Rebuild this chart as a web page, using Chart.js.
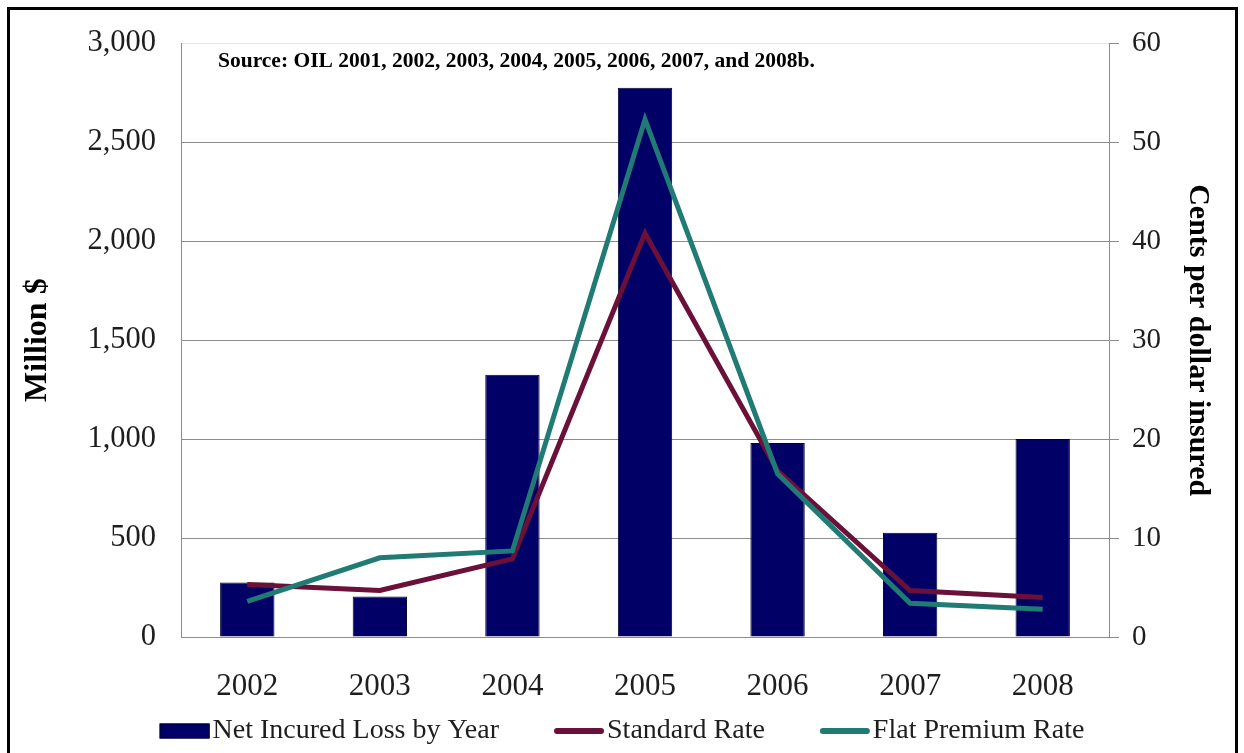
<!DOCTYPE html>
<html>
<head>
<meta charset="utf-8">
<script src="https://cdn.jsdelivr.net/npm/chart.js@4.4.1/dist/chart.umd.min.js"></script>
<style>
  html, body { margin: 0; padding: 0; background: #fff; overflow: hidden; }
  #wrap { position: relative; width: 1244px; height: 753px; }
  #frame { position: absolute; left: 7px; top: 7px; width: 1225px; height: 800px; border: 3px solid #000; pointer-events: none; }
  canvas { position: absolute; left: 0; top: 0; }
</style>
</head>
<body>
<div id="wrap">
  <canvas id="chart" width="1244" height="753"></canvas>
  <div id="frame"></div>
</div>
<script>
// Years on the category axis
const years = ['2002', '2003', '2004', '2005', '2006', '2007', '2008'];
// Net incurred loss, million $ (left axis)
const netIncurredLoss = [275, 205, 1325, 2775, 980, 527, 1000];
// Rates in cents per dollar insured (right axis)
const standardRate = [5.3, 4.7, 7.9, 40.8, 16.8, 4.7, 4.0];
const flatPremiumRate = [3.6, 8.0, 8.7, 52.3, 16.5, 3.4, 2.8];
// Series names
const seriesNames = ['Net Incured Loss by Year', 'Standard Rate', 'Flat Premium Rate'];
// Axis titles and source note
const leftAxisTitle = 'Million $';
const rightAxisTitle = 'Cents per dollar insured';
const sourceNote = 'Source: OIL 2001, 2002, 2003, 2004, 2005, 2006, 2007, and 2008b.';

const SERIF = "'Liberation Serif', 'Times New Roman', Times, serif";
const GRID = '#8c8c8c';
const TEXT = '#1e1e1e';

// Writes the source note inside the top-left of the plot area
const sourceNotePlugin = {
  id: 'sourceNote',
  afterDraw(chart) {
    const { ctx, chartArea } = chart;
    ctx.save();
    ctx.font = 'bold 21.5px ' + SERIF;
    ctx.fillStyle = '#000';
    ctx.textAlign = 'left';
    ctx.textBaseline = 'middle';
    ctx.fillText(sourceNote, chartArea.left + 37, chartArea.top + 18);
    ctx.restore();
  }
};

// Legend row along the bottom: a swatch per dataset followed by its name
const legendRowPlugin = {
  id: 'legendRow',
  afterDraw(chart) {
    const { ctx } = chart;
    const swatchW = 50, textGap = 3, itemGap = 55, rowY = 731;
    ctx.save();
    ctx.font = '28px ' + SERIF;
    ctx.textBaseline = 'middle';
    ctx.textAlign = 'left';
    const items = chart.data.datasets.map(ds => ({
      ds,
      w: swatchW + textGap + ctx.measureText(ds.label).width
    }));
    const total = items.reduce((s, it) => s + it.w, 0) + itemGap * (items.length - 1);
    let x = chart.width / 2 - total / 2;
    items.forEach(({ ds, w }) => {
      if (ds.type === 'bar') {
        ctx.fillStyle = ds.backgroundColor;
        ctx.fillRect(x, rowY - 7.5, swatchW, 15);
        ctx.strokeStyle = ds.borderColor;
        ctx.lineWidth = 1;
        ctx.strokeRect(x + 0.5, rowY - 7, swatchW - 1, 14);
      } else {
        ctx.strokeStyle = ds.borderColor;
        ctx.lineWidth = 6;
        ctx.lineCap = 'round';
        ctx.beginPath();
        ctx.moveTo(x + 3, rowY);
        ctx.lineTo(x + swatchW - 3, rowY);
        ctx.stroke();
      }
      ctx.fillStyle = TEXT;
      ctx.fillText(ds.label, x + swatchW + textGap, rowY);
      x += w + itemGap;
    });
    ctx.restore();
  }
};

new Chart(document.getElementById('chart'), {
  data: {
    labels: years,
    datasets: [
      {
        type: 'bar',
        label: seriesNames[0],
        data: netIncurredLoss,
        yAxisID: 'y',
        backgroundColor: '#000066',
        borderColor: '#00002e',
        borderWidth: 1,
        categoryPercentage: 1,
        barPercentage: 0.41,
        order: 2
      },
      {
        type: 'line',
        label: seriesNames[1],
        data: standardRate,
        yAxisID: 'y1',
        borderColor: '#6b1038',
        backgroundColor: '#6b1038',
        borderWidth: 5,
        pointRadius: 0,
        tension: 0,
        order: 1
      },
      {
        type: 'line',
        label: seriesNames[2],
        data: flatPremiumRate,
        yAxisID: 'y1',
        borderColor: '#1f7b74',
        backgroundColor: '#1f7b74',
        borderWidth: 5,
        pointRadius: 0,
        tension: 0,
        order: 0
      }
    ]
  },
  options: {
    responsive: false,
    animation: false,
    devicePixelRatio: 1,
    layout: { padding: { left: 10, right: 18, top: 36, bottom: 0 } },
    plugins: {
      tooltip: { enabled: false },
      legend: { display: false }
    },
    scales: {
      x: {
        offset: true,
        grid: { display: false, drawTicks: false },
        border: { display: true, color: GRID, width: 1 },
        ticks: { color: TEXT, padding: 31, font: { family: SERIF, size: 31 } },
        afterFit(scale) { scale.height = 116; }
      },
      y: {
        position: 'left',
        min: 0,
        max: 3000,
        ticks: {
          stepSize: 500,
          padding: 25,
          color: TEXT,
          font: { family: SERIF, size: 30.5 },
          callback: v => v.toLocaleString('en-US')
        },
        grid: {
          drawTicks: false,
          color: ctx => (ctx.tick && ctx.tick.value === 3000 ? '#e6e6e6' : GRID),
          lineWidth: 1
        },
        border: { display: true, color: GRID, width: 1 },
        title: {
          display: true,
          text: leftAxisTitle,
          color: '#000',
          padding: { top: 9, bottom: 0 },
          font: { family: SERIF, size: 32, weight: 'bold' }
        },
        afterFit(scale) { scale.width = 171; }
      },
      y1: {
        position: 'right',
        min: 0,
        max: 60,
        ticks: {
          stepSize: 10,
          padding: 13,
          color: TEXT,
          font: { family: SERIF, size: 29 }
        },
        grid: { drawOnChartArea: false, drawTicks: true, tickLength: 10, color: GRID },
        border: { display: true, color: GRID, width: 1 },
        title: {
          display: true,
          text: rightAxisTitle,
          color: '#000',
          padding: { top: 10, bottom: 0 },
          font: { family: SERIF, size: 30, weight: 'bold' }
        },
        afterFit(scale) { scale.width = 117; }
      }
    }
  },
  plugins: [sourceNotePlugin, legendRowPlugin]
});
</script>
</body>
</html>
